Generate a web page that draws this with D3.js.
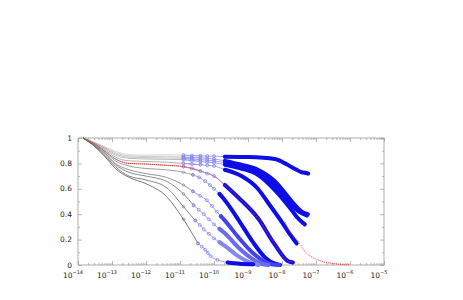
<!DOCTYPE html>
<html>
<head>
<meta charset="utf-8">
<script src="https://cdn.jsdelivr.net/npm/d3@7"></script>
<style>
  html, body { margin: 0; padding: 0; background: #fff; }
  svg { display: block; font-family: "DejaVu Sans", sans-serif; }
</style>
</head>
<body>
<div id="chart"></div>
<script>
// x values are log10(t), y values are the normalised decay
const decades = [-14, -13, -12, -11, -10, -9, -8, -7, -6, -5];
const yTicks = [0, 0.2, 0.4, 0.6, 0.8, 1];
const yTickLabels = ["0", "0.2", "0.4", "0.6", "0.8", "1"];
const curveNames = ["A", "B1", "B2", "B3", "D", "C", "e1", "e2", "e3", "e4", "e0"];

// early (grey) part of each run
const grayA  = [[-13.85,1],[-13.5,.965],[-13.2,.93],[-12.9,.895],[-12.5,.87],[-12,.865],[-11.4,.868],[-10.9,.865],[-10.4,.86]];
const grayB1 = [[-13.85,1],[-13.5,.962],[-13.2,.925],[-12.9,.885],[-12.5,.86],[-12,.855],[-11.4,.855],[-10.9,.85],[-10.4,.845]];
const grayB2 = [[-13.85,1],[-13.5,.96],[-13.2,.92],[-12.9,.875],[-12.5,.85],[-12,.845],[-11.4,.842],[-10.9,.84],[-10.4,.83]];
const grayB3 = [[-13.85,1],[-13.5,.958],[-13.2,.915],[-12.9,.865],[-12.5,.84],[-12,.835],[-11.4,.832],[-10.9,.83],[-10.4,.815]];
const grayD  = [[-13.85,1],[-13.5,.955],[-13.2,.905],[-12.9,.85],[-12.5,.82],[-12,.815],[-11.4,.81],[-10.9,.8],[-10.4,.79]];
const grayC  = [[-13.85,1],[-13.5,.952],[-13.2,.895],[-12.9,.835],[-12.5,.8],[-12,.795],[-11.4,.785],[-10.9,.775],[-10.4,.74]];
const grayE1 = [[-13.85,1],[-13.5,.95],[-13.2,.89],[-12.9,.82],[-12.5,.78],[-12,.76],[-11.4,.75],[-10.9,.73],[-10.62,.71]];
const grayE2 = [[-13.85,1],[-13.5,.945],[-13.2,.88],[-12.9,.8],[-12.5,.75],[-12,.72],[-11.4,.69],[-10.9,.63],[-10.62,.58]];
const grayE3 = [[-13.85,1],[-13.5,.94],[-13.2,.87],[-12.9,.79],[-12.5,.73],[-12,.70],[-11.4,.66],[-10.9,.56],[-10.6,.47]];
const grayE4 = [[-13.85,1],[-13.5,.935],[-13.2,.86],[-12.9,.775],[-12.5,.70],[-12,.67],[-11.4,.61],[-10.9,.46],[-10.55,.35]];
const grayE0 = [[-13.85,1],[-13.5,.93],[-13.2,.85],[-12.9,.76],[-12.5,.69],[-12,.64],[-11.4,.54],[-10.9,.36],[-10.47,.17]];

// late (blue circles) part of each run
const blueA  = [[-10.9,.865],[-10.65,.862],[-10.4,.86],[-10.2,.858],[-10,.857],[-9.68,.853],[-9,.85],[-8.21,.835],[-7.91,.8],[-7.71,.77],[-7.57,.75],[-7.42,.73],[-7.32,.727],[-7.23,.72]];
const blueB1 = [[-10.9,.85],[-10.65,.848],[-10.4,.845],[-10.2,.84],[-10,.835],[-9.68,.82],[-9.2,.79],[-8.71,.75],[-8.21,.66],[-7.71,.5],[-7.42,.42],[-7.24,.4]];
const blueB2 = [[-10.9,.84],[-10.65,.835],[-10.4,.83],[-10.2,.825],[-10,.82],[-9.68,.805],[-9.2,.775],[-8.71,.73],[-8.21,.63],[-7.71,.47],[-7.5,.42],[-7.27,.39]];
const blueB3 = [[-10.9,.83],[-10.65,.822],[-10.4,.815],[-10.2,.81],[-10,.805],[-9.68,.79],[-9.2,.76],[-8.71,.71],[-8.21,.59],[-7.71,.43],[-7.57,.38],[-7.33,.32]];
const blueD  = [[-10.9,.8],[-10.65,.795],[-10.4,.79],[-10.2,.785],[-10,.78],[-9.68,.75],[-9.19,.7],[-8.71,.6],[-8.41,.49],[-8.01,.34],[-7.76,.24],[-7.57,.17]];
const blueC  = [[-10.9,.775],[-10.65,.76],[-10.4,.74],[-10.2,.72],[-10,.7],[-9.68,.63],[-9.24,.52],[-8.71,.37],[-8.21,.16],[-7.82,.03],[-7.68,.02]];
const blueE1 = [[-10.62,.71],[-10.44,.69],[-10.26,.66],[-10.12,.63],[-10,.6],[-9.84,.56],[-9.68,.51],[-9.29,.36],[-8.88,.19],[-8.5,.06],[-8.21,.01],[-8.06,0]];
const blueE2 = [[-10.62,.58],[-10.41,.545],[-10.21,.51],[-10.06,.465],[-9.92,.42],[-9.8,.385],[-9.68,.35],[-9.29,.22],[-8.88,.1],[-8.5,.025],[-8.3,.005],[-8.1,0]];
const blueE3 = [[-10.6,.47],[-10.45,.435],[-10.3,.4],[-10.15,.36],[-10,.32],[-9.84,.285],[-9.68,.25],[-9.29,.14],[-8.88,.05],[-8.6,.01],[-8.4,0]];
const blueE4 = [[-10.55,.35],[-10.42,.315],[-10.3,.28],[-10.15,.245],[-10,.21],[-9.84,.18],[-9.68,.15],[-9.29,.07],[-8.95,.02],[-8.7,0]];
const blueE0 = [[-10.47,.17],[-10.36,.145],[-10.26,.12],[-10.18,.095],[-10.1,.07],[-9.9,.04],[-9.6,.02],[-9.24,.01],[-8.85,.005]];

// red dotted fit and its tail
const redFit  = [[-13.85,1],[-13.5,.952],[-13.2,.895],[-12.9,.835],[-12.5,.8],[-12,.795],[-11.4,.785],[-10.9,.775],[-10.4,.74],[-10,.7],[-9.68,.63],[-9.24,.52],[-8.71,.37],[-8.21,.16],[-7.82,.03],[-7.68,.02]];
const redTail = [[-7.91,.34],[-7.76,.26],[-7.56,.2],[-7.32,.105],[-6.94,.04],[-6.44,.01],[-6,0]];

const grays = [grayA, grayB1, grayB2, grayB3, grayD, grayC, grayE1, grayE2, grayE3, grayE4, grayE0];
const blues = [blueA, blueB1, blueB2, blueB3, blueD, blueC, blueE1, blueE2, blueE3, blueE4, blueE0];

const width = 463, height = 300;
const mLeft = 78, mRight = 384, mTop = 138, mBottom = 265;

const svg = d3.select("#chart").append("svg")
    .attr("width", width)
    .attr("height", height);

const x = d3.scaleLog().domain([1e-14, 1e-5]).range([mLeft, mRight]);
const y = d3.scaleLinear().domain([0, 1]).range([mBottom, mTop]);
const px = d => x(Math.pow(10, d[0]));
const py = d => y(d[1]);

const line = d3.line().x(px).y(py).curve(d3.curveMonotoneX);

// greys get darker towards the bottom runs
const grayColor = d3.scaleLinear().domain([0, grays.length - 1]).range(["#cbcbcb", "#585858"]);
const blueColor = { e2: "#4343ee", e3: "#6a6af0", e4: "#8686f2" };

// frame and ticks
const axisColor = "#9a9a9a";
const minor = [];
decades.slice(0, -1).forEach(d => {
    for (let k = 2; k < 10; k++) minor.push(k * Math.pow(10, d));
});
const major = decades.map(d => Math.pow(10, d));

const styleAxis = g => {
    g.select(".domain").remove();
    g.selectAll("line").attr("stroke", axisColor).attr("stroke-width", 0.7);
};

svg.append("g").attr("transform", `translate(0,${mBottom})`)
    .call(d3.axisBottom(x).tickValues(major).tickSize(-4).tickFormat(""))
    .call(styleAxis);
svg.append("g").attr("transform", `translate(0,${mBottom})`)
    .call(d3.axisBottom(x).tickValues(minor).tickSize(-2).tickFormat(""))
    .call(styleAxis);
svg.append("g").attr("transform", `translate(0,${mTop})`)
    .call(d3.axisTop(x).tickValues(major).tickSize(-4).tickFormat(""))
    .call(styleAxis);
svg.append("g").attr("transform", `translate(0,${mTop})`)
    .call(d3.axisTop(x).tickValues(minor).tickSize(-2).tickFormat(""))
    .call(styleAxis);

const yMinor = [0.1, 0.3, 0.5, 0.7, 0.9];
svg.append("g").attr("transform", `translate(${mLeft},0)`)
    .call(d3.axisLeft(y).tickValues(yTicks).tickSize(-4).tickFormat(""))
    .call(styleAxis);
svg.append("g").attr("transform", `translate(${mLeft},0)`)
    .call(d3.axisLeft(y).tickValues(yMinor).tickSize(-2).tickFormat(""))
    .call(styleAxis);
svg.append("g").attr("transform", `translate(${mRight},0)`)
    .call(d3.axisRight(y).tickValues(yTicks).tickSize(-4).tickFormat(""))
    .call(styleAxis);
svg.append("g").attr("transform", `translate(${mRight},0)`)
    .call(d3.axisRight(y).tickValues(yMinor).tickSize(-2).tickFormat(""))
    .call(styleAxis);

svg.append("rect")
    .attr("x", mLeft).attr("y", mTop)
    .attr("width", mRight - mLeft).attr("height", mBottom - mTop)
    .attr("fill", "none")
    .attr("stroke", axisColor)
    .attr("stroke-width", 0.8);

// tick labels
svg.append("g").selectAll("text")
    .data(yTicks)
    .join("text")
    .attr("x", mLeft - 6)
    .attr("y", d => y(d))
    .attr("dy", "0.35em")
    .attr("text-anchor", "end")
    .attr("font-size", 7.5)
    .attr("fill", "#222")
    .text((d, i) => yTickLabels[i]);

const xl = svg.append("g").selectAll("text")
    .data(decades)
    .join("text")
    .attr("x", d => x(Math.pow(10, d)) - 5)
    .attr("y", mBottom + 13)
    .attr("text-anchor", "middle")
    .attr("font-size", 7.5)
    .attr("fill", "#222");
xl.append("tspan").text("10");
xl.append("tspan").attr("dy", -4).attr("font-size", 5).text(d => "\u2212" + Math.abs(d));

// grey early traces
const plot = svg.append("g");
grays.forEach((g, i) => {
    plot.append("path")
        .datum(g)
        .attr("fill", "none")
        .attr("stroke", grayColor(i))
        .attr("stroke-width", 0.8)
        .attr("d", line);
    plot.append("g").selectAll("circle")
        .data(g.slice(-2))
        .join("circle")
        .attr("cx", px).attr("cy", py)
        .attr("r", 1.2)
        .attr("fill", "none")
        .attr("stroke", grayColor(i))
        .attr("stroke-width", 0.6);
});

// blue late traces: sparse circles, dense band where samples pile up
blues.forEach((b, i) => {
    const name = curveNames[i];
    const col = blueColor[name] || "#0d0de8";
    const dense = b.filter(d => d[0] >= -9.85);
    plot.append("path")
        .datum(b)
        .attr("fill", "none")
        .attr("stroke", "#a0a0f6")
        .attr("stroke-width", 1)
        .attr("d", line);
    plot.append("g").selectAll("circle")
        .data(b)
        .join("circle")
        .attr("cx", px).attr("cy", py)
        .attr("r", 1.5)
        .attr("fill", "none")
        .attr("stroke", "#7a7af4")
        .attr("stroke-width", 0.7);
    plot.append("path")
        .datum(dense)
        .attr("fill", "none")
        .attr("stroke", col)
        .attr("stroke-width", 4)
        .attr("stroke-linecap", "round")
        .attr("stroke-linejoin", "round")
        .attr("d", line);
});

// red dotted fit
[redFit, redTail].forEach(r => {
    plot.append("path")
        .datum(r)
        .attr("fill", "none")
        .attr("stroke", "#ff3030")
        .attr("stroke-width", 0.9)
        .attr("stroke-dasharray", "1,1")
        .attr("d", line);
});
</script>
</body>
</html>
